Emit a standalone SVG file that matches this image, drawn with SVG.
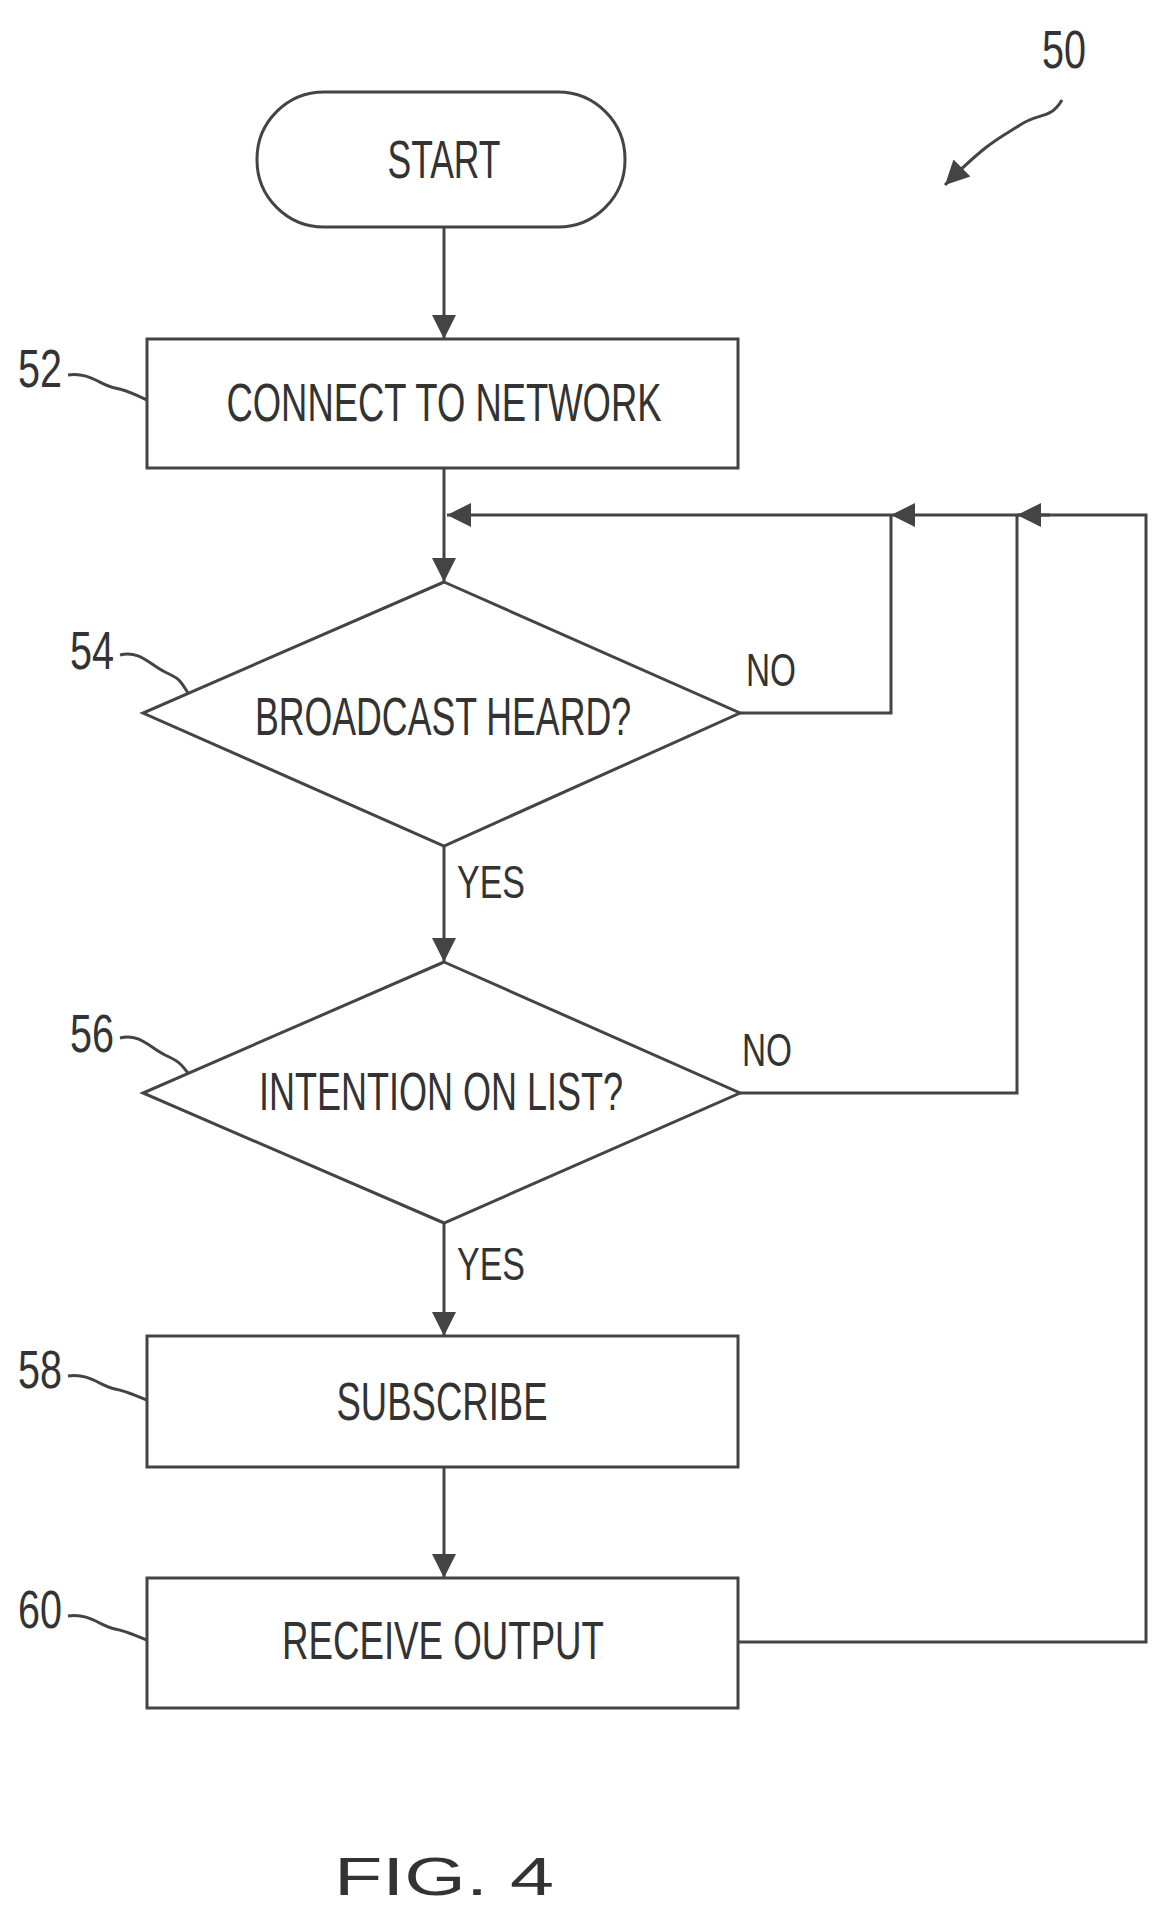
<svg xmlns="http://www.w3.org/2000/svg" width="1158" height="1912" viewBox="0 0 1158 1912">
<defs>
<style>
.s{fill:none;stroke:#444;stroke-width:3}
.n{fill:#fff;stroke:#444;stroke-width:3}
text{font-family:"Liberation Sans",Arial,sans-serif;fill:#333;font-size:54px;text-anchor:middle}
.r{text-anchor:start;font-size:46px}
</style>
<marker id="b" viewBox="0 0 10 10" refX="10" refY="5" markerWidth="34" markerHeight="24" markerUnits="userSpaceOnUse" orient="auto"><path d="M0,0 L10,5 L0,10 z" fill="#444"/></marker>
</defs>
<rect width="1158" height="1912" fill="#fff"/>
<g id="connectors">
<path class="s" d="M444 227 V339" marker-end="url(#b)"/>
<path class="s" d="M444 468 V582" marker-end="url(#b)"/>
<path class="s" d="M444 846 V962" marker-end="url(#b)"/>
<path class="s" d="M444 1223 V1336" marker-end="url(#b)"/>
<path class="s" d="M444 1467 V1578" marker-end="url(#b)"/>
<path class="s" d="M740 713 H891 V515"/>
<path class="s" d="M740 1093 H1017 V515"/>
<path class="s" d="M738 1642 H1146 V515 H1017"/>
<path class="s" d="M1017 515 H891" marker-end="url(#b)"/>
<path class="s" d="M891 515 H447" marker-end="url(#b)"/>
<path class="s" d="M1050 515 H1017" marker-end="url(#b)"/>
</g>
<g id="start"><rect class="n" x="257" y="92" width="368" height="135" rx="67"/><text x="444" y="178" textLength="113" lengthAdjust="spacingAndGlyphs">START</text></g>
<g id="n52"><rect class="n" x="147" y="339" width="591" height="129"/><text x="444" y="421" textLength="435" lengthAdjust="spacingAndGlyphs">CONNECT TO NETWORK</text></g>
<g id="n54"><polygon class="n" points="444,582 740,713 444,846 143,713"/><text x="443" y="735" font-size="50" textLength="376" lengthAdjust="spacingAndGlyphs">BROADCAST HEARD?</text></g>
<g id="n56"><polygon class="n" points="444,962 740,1093 444,1223 143,1093"/><text x="441" y="1110" font-size="50" textLength="364" lengthAdjust="spacingAndGlyphs">INTENTION ON LIST?</text></g>
<g id="n58"><rect class="n" x="147" y="1336" width="591" height="131"/><text x="442" y="1420" textLength="211" lengthAdjust="spacingAndGlyphs">SUBSCRIBE</text></g>
<g id="n60"><rect class="n" x="147" y="1578" width="591" height="130"/><text x="443" y="1659" textLength="322" lengthAdjust="spacingAndGlyphs">RECEIVE OUTPUT</text></g>
<g id="labels">
<text class="r" x="746" y="686" textLength="50" lengthAdjust="spacingAndGlyphs">NO</text>
<text class="r" x="742" y="1066" textLength="50" lengthAdjust="spacingAndGlyphs">NO</text>
<text class="r" x="457" y="898" textLength="68" lengthAdjust="spacingAndGlyphs">YES</text>
<text class="r" x="457" y="1280" textLength="68" lengthAdjust="spacingAndGlyphs">YES</text>
<text x="40" y="387" font-size="46" textLength="44" lengthAdjust="spacingAndGlyphs">52</text>
<text x="92" y="669" font-size="46" textLength="44" lengthAdjust="spacingAndGlyphs">54</text>
<text x="92" y="1052" font-size="46" textLength="44" lengthAdjust="spacingAndGlyphs">56</text>
<text x="40" y="1388" font-size="46" textLength="44" lengthAdjust="spacingAndGlyphs">58</text>
<text x="40" y="1628" font-size="46" textLength="44" lengthAdjust="spacingAndGlyphs">60</text>
<text x="1064" y="68" font-size="46" textLength="44" lengthAdjust="spacingAndGlyphs">50</text>
<path class="s" d="M68 375 C90 372 100 385 115 388 S135 395 147 400"/>
<path class="s" d="M120 655 C140 650 150 665 165 672 S180 680 188 693"/>
<path class="s" d="M120 1038 C140 1033 150 1048 165 1055 S180 1063 188 1073"/>
<path class="s" d="M68 1376 C90 1373 100 1386 115 1389 S135 1396 147 1400"/>
<path class="s" d="M68 1616 C90 1613 100 1626 115 1629 S135 1636 147 1640"/>
<path class="s" d="M1062 100 C1050 120 1040 112 1020 125 S990 140 945 185" marker-end="url(#b)"/>
<text x="444" y="1895" font-size="82" textLength="220" lengthAdjust="spacingAndGlyphs">FIG. 4</text>
</g>
</svg>
